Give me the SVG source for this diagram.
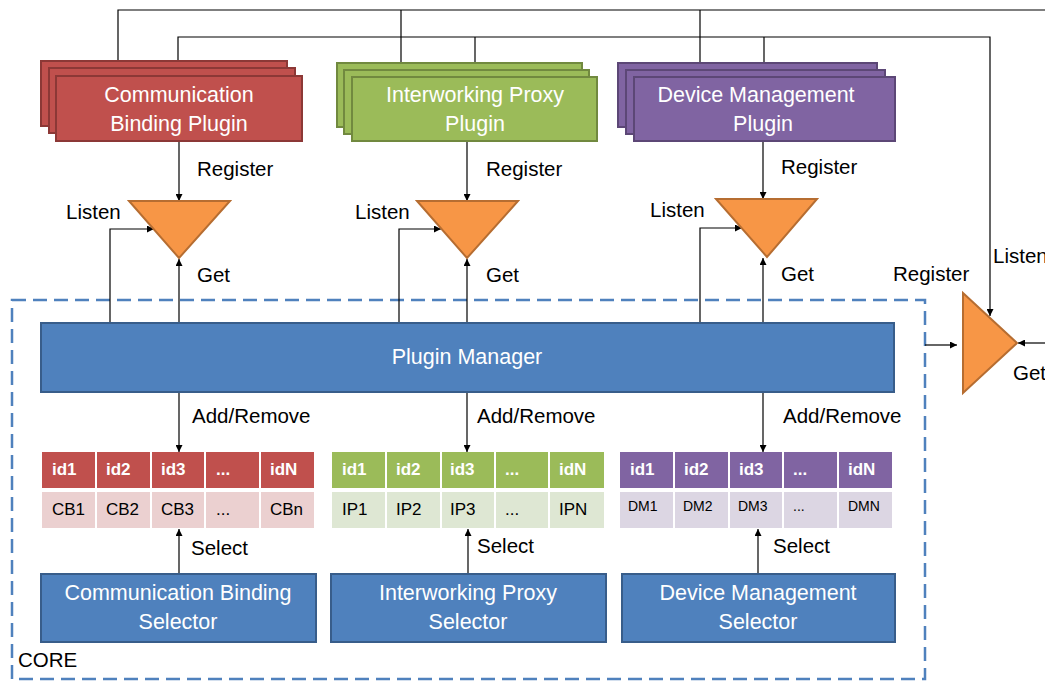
<svg xmlns="http://www.w3.org/2000/svg" width="1045" height="681" viewBox="0 0 1045 681">
<defs>
<marker id="ah" viewBox="0 0 10 10" refX="10" refY="5" markerWidth="7" markerHeight="7" orient="auto" markerUnits="userSpaceOnUse">
<path d="M0,0 L10,5 L0,10 z" fill="#000"/>
</marker>
<style>
.lbl{font-family:"Liberation Sans",Arial,sans-serif;font-size:20.5px;fill:#000}
.wt{font-family:"Liberation Sans",Arial,sans-serif;font-size:21.5px;fill:#fff;text-anchor:middle}
.hd{font-family:"Liberation Sans",Arial,sans-serif;font-size:17px;font-weight:bold;fill:#fff}
.dt{font-family:"Liberation Sans",Arial,sans-serif;font-size:17px;fill:#000}
.dts{font-family:"Liberation Sans",Arial,sans-serif;font-size:14px;fill:#000}
.cb{fill:#C0504D;stroke:#8C3836;stroke-width:2}
.ip{fill:#9BBB59;stroke:#71893F;stroke-width:2}
.dm{fill:#8064A2;stroke:#5C4776;stroke-width:2}
.blue{fill:#4F81BD;stroke:#385D8A;stroke-width:2}
.tri{fill:#F79646;stroke:#B66D31;stroke-width:2}
.ln{fill:none;stroke:#000;stroke-width:1.2}
.ar{fill:none;stroke:#000;stroke-width:1.2;marker-end:url(#ah)}
</style>
</defs>
<rect width="1045" height="681" fill="#fff"/>

<g id="core">
<rect x="12" y="300" width="913" height="379" fill="none" stroke="#4F81BD" stroke-width="2.5" stroke-dasharray="14,7"/>
<text class="lbl" x="18" y="667">CORE</text>
</g>

<g id="connectors">
<polyline class="ln" points="118,77 118,10 1045,10"/>
<line class="ln" x1="401" y1="10" x2="401" y2="77"/>
<line class="ln" x1="700" y1="10" x2="700" y2="77"/>
<polyline class="ar" points="178,77 178,37 990,37 990,316"/>
<line class="ln" x1="475" y1="37" x2="475" y2="77"/>
<line class="ln" x1="764" y1="37" x2="764" y2="77"/>

<line class="ar" x1="179" y1="141" x2="179" y2="201"/>
<line class="ar" x1="179" y1="323" x2="179" y2="259"/>
<polyline class="ar" points="110,323 110,229 154,229"/>

<line class="ar" x1="467" y1="141" x2="467" y2="201"/>
<line class="ar" x1="467" y1="323" x2="467" y2="259"/>
<polyline class="ar" points="399,323 399,229 441,229"/>

<line class="ar" x1="763" y1="141" x2="763" y2="199"/>
<line class="ar" x1="763" y1="323" x2="763" y2="258"/>
<polyline class="ar" points="700,323 700,228 742,228"/>

<line class="ar" x1="179" y1="392" x2="179" y2="452"/>
<line class="ar" x1="467" y1="392" x2="467" y2="452"/>
<line class="ar" x1="763" y1="392" x2="763" y2="452"/>

<line class="ar" x1="179" y1="574" x2="179" y2="529"/>
<line class="ar" x1="468" y1="574" x2="468" y2="529"/>
<line class="ar" x1="758" y1="574" x2="758" y2="529"/>

<line class="ar" x1="925" y1="345" x2="957" y2="345"/>
<line class="ar" x1="1045" y1="343" x2="1018" y2="343"/>
</g>

<g id="cb-plugin">
<rect class="cb" x="41" y="61" width="246" height="65"/>
<rect class="cb" x="49" y="68" width="246" height="65"/>
<rect class="cb" x="56" y="76" width="246" height="65"/>
<text class="wt" x="179" y="102">Communication</text>
<text class="wt" x="179" y="131">Binding Plugin</text>
</g>
<g id="ip-plugin">
<rect class="ip" x="337" y="63" width="245" height="64"/>
<rect class="ip" x="344" y="70" width="245" height="64"/>
<rect class="ip" x="352" y="77" width="245" height="64"/>
<text class="wt" x="475" y="102">Interworking Proxy</text>
<text class="wt" x="475" y="131">Plugin</text>
</g>
<g id="dm-plugin">
<rect class="dm" x="618" y="63" width="259" height="64"/>
<rect class="dm" x="626" y="70" width="259" height="64"/>
<rect class="dm" x="634" y="77" width="261" height="64"/>
<text class="wt" x="756" y="102">Device Management</text>
<text class="wt" x="763" y="131">Plugin</text>
</g>

<g id="cb-registry">
<polygon class="tri" points="129,201 230,201 179,258"/>
<text class="lbl" x="197" y="176">Register</text>
<text class="lbl" x="66" y="219">Listen</text>
<text class="lbl" x="197" y="282">Get</text>
</g>
<g id="ip-registry">
<polygon class="tri" points="417,201 518,201 467,258"/>
<text class="lbl" x="486" y="176">Register</text>
<text class="lbl" x="355" y="219">Listen</text>
<text class="lbl" x="486" y="282">Get</text>
</g>
<g id="dm-registry">
<polygon class="tri" points="716,199 817,199 767,257"/>
<text class="lbl" x="781" y="174">Register</text>
<text class="lbl" x="650" y="217">Listen</text>
<text class="lbl" x="781" y="281">Get</text>
</g>
<g id="ext-registry">
<polygon class="tri" points="963,293 1017,343 963,393"/>
<text class="lbl" x="893" y="281">Register</text>
<text class="lbl" x="993" y="263">Listen</text>
<text class="lbl" x="1013" y="380">Get</text>
</g>

<g id="plugin-manager">
<rect class="blue" x="41" y="323" width="853" height="69"/>
<text class="wt" x="467" y="364">Plugin Manager</text>
</g>
<g id="add-labels">
<text class="lbl" x="192" y="423">Add/Remove</text>
<text class="lbl" x="477" y="423">Add/Remove</text>
<text class="lbl" x="783" y="423">Add/Remove</text>
</g>

<g id="cb-table">
<g fill="#C0504D">
<rect x="42" y="452" width="53" height="36"/><rect x="97" y="452" width="53" height="36"/><rect x="152" y="452" width="52" height="36"/><rect x="206" y="452" width="53" height="36"/><rect x="261" y="452" width="53" height="36"/>
</g>
<g fill="#EBD0D0">
<rect x="42" y="492" width="53" height="36"/><rect x="97" y="492" width="53" height="36"/><rect x="152" y="492" width="52" height="36"/><rect x="206" y="492" width="53" height="36"/><rect x="261" y="492" width="53" height="36"/>
</g>
<text class="hd" x="52" y="475">id1</text><text class="hd" x="106" y="475">id2</text><text class="hd" x="161" y="475">id3</text><text class="hd" x="216" y="475">...</text><text class="hd" x="270" y="475">idN</text>
<text class="dt" x="52" y="515">CB1</text><text class="dt" x="106" y="515">CB2</text><text class="dt" x="161" y="515">CB3</text><text class="dt" x="216" y="515">...</text><text class="dt" x="270" y="515">CBn</text>
<text class="lbl" x="191" y="555">Select</text>
</g>
<g id="ip-table">
<g fill="#9BBB59">
<rect x="332" y="452" width="53" height="36"/><rect x="387" y="452" width="53" height="36"/><rect x="442" y="452" width="52" height="36"/><rect x="496" y="452" width="52" height="36"/><rect x="550" y="452" width="54" height="36"/>
</g>
<g fill="#DEE7D3">
<rect x="332" y="492" width="53" height="36"/><rect x="387" y="492" width="53" height="36"/><rect x="442" y="492" width="52" height="36"/><rect x="496" y="492" width="52" height="36"/><rect x="550" y="492" width="54" height="36"/>
</g>
<text class="hd" x="342" y="475">id1</text><text class="hd" x="396" y="475">id2</text><text class="hd" x="450" y="475">id3</text><text class="hd" x="505" y="475">...</text><text class="hd" x="559" y="475">idN</text>
<text class="dt" x="342" y="515">IP1</text><text class="dt" x="396" y="515">IP2</text><text class="dt" x="450" y="515">IP3</text><text class="dt" x="505" y="515">...</text><text class="dt" x="559" y="515">IPN</text>
<text class="lbl" x="477" y="553">Select</text>
</g>
<g id="dm-table">
<g fill="#8064A2">
<rect x="620" y="452" width="53" height="36"/><rect x="675" y="452" width="53" height="36"/><rect x="730" y="452" width="52" height="36"/><rect x="784" y="452" width="53" height="36"/><rect x="839" y="452" width="53" height="36"/>
</g>
<g fill="#DCD6E3">
<rect x="620" y="492" width="53" height="36"/><rect x="675" y="492" width="53" height="36"/><rect x="730" y="492" width="52" height="36"/><rect x="784" y="492" width="53" height="36"/><rect x="839" y="492" width="53" height="36"/>
</g>
<text class="hd" x="630" y="475">id1</text><text class="hd" x="684" y="475">id2</text><text class="hd" x="739" y="475">id3</text><text class="hd" x="793" y="475">...</text><text class="hd" x="848" y="475">idN</text>
<text class="dts" x="628" y="511">DM1</text><text class="dts" x="683" y="511">DM2</text><text class="dts" x="738" y="511">DM3</text><text class="dts" x="793" y="511">...</text><text class="dts" x="848" y="511">DMN</text>
<text class="lbl" x="773" y="553">Select</text>
</g>

<g id="cb-selector">
<rect class="blue" x="41" y="574" width="275" height="68"/>
<text class="wt" x="178" y="600">Communication Binding</text>
<text class="wt" x="178" y="629">Selector</text>
</g>
<g id="ip-selector">
<rect class="blue" x="331" y="574" width="275" height="68"/>
<text class="wt" x="468" y="600">Interworking Proxy</text>
<text class="wt" x="468" y="629">Selector</text>
</g>
<g id="dm-selector">
<rect class="blue" x="622" y="574" width="273" height="68"/>
<text class="wt" x="758" y="600">Device Management</text>
<text class="wt" x="758" y="629">Selector</text>
</g>
</svg>
